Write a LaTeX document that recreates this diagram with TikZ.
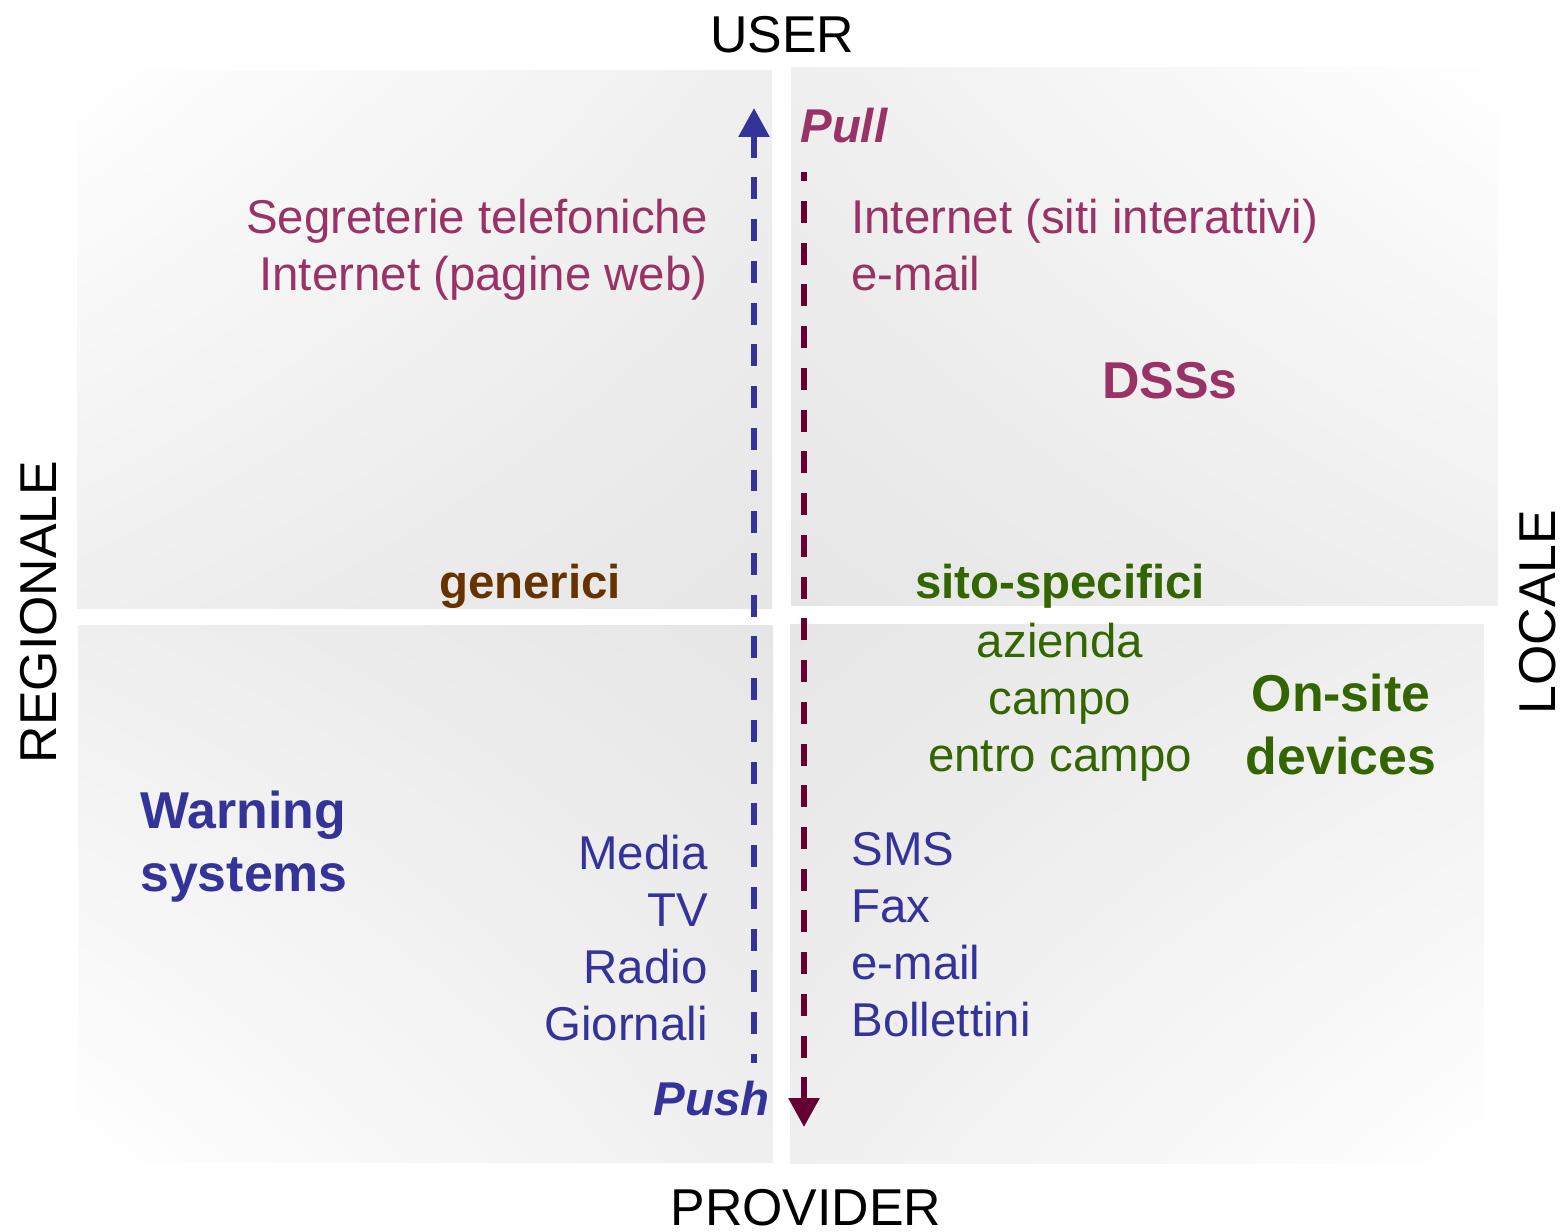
\documentclass[tikz,border=0pt]{standalone}
\usepackage{fontspec}
\setmainfont{Liberation Sans}
\usetikzlibrary{arrows.meta}
\usetikzlibrary{shadings}

\definecolor{pullcol}{HTML}{993366}
\definecolor{pushcol}{HTML}{333399}
\definecolor{pullarrow}{HTML}{660033}
\definecolor{gencol}{HTML}{663300}
\definecolor{sitecol}{HTML}{336600}
\definecolor{panelmid}{HTML}{EFEFEF}
\definecolor{paneldark}{HTML}{E6E6E6}

\tikzset{
  flowline/.style={line width=0.115cm, dash pattern=on 0.44cm off 0.395cm,
    {Triangle[width=0.6cm,length=0.58cm]}-},
  listtext/.style={inner sep=0pt, font=\fontsize{27}{32.4}\selectfont},
  labeltext/.style={inner sep=0pt, font=\bfseries\fontsize{27}{32.4}\selectfont},
  flowtext/.style={inner sep=0pt, font=\bfseries\itshape\fontsize{27}{32.4}\selectfont},
  headtext/.style={inner sep=0pt, font=\bfseries\fontsize{29.5}{35.4}\selectfont},
  axistext/.style={inner sep=0pt, font=\fontsize{29.5}{35.4}\selectfont},
}

\begin{document}
\begin{tikzpicture}[x=0.02cm, y=-0.02cm]
    \useasboundingbox (0,0) rectangle (1565,1231);
    % quadrants, lighter towards the outer corner
    \shade[upper left=white, upper right=panelmid, lower left=panelmid, lower right=paneldark] (77,70) rectangle (772,608);
    \shade[upper left=panelmid, upper right=white, lower left=paneldark, lower right=panelmid] (791,67) rectangle (1498,605);
    \shade[upper left=panelmid, upper right=paneldark, lower left=white, lower right=panelmid] (78,625) rectangle (773,1162);
    \shade[upper left=paneldark, upper right=panelmid, lower left=panelmid, lower right=white] (790,624) rectangle (1484,1163);

    \node[axistext, anchor=base] (user) at (782,52) {USER};
    \node[axistext, anchor=base] (provider) at (806,1225) {PROVIDER};
    \node[axistext, rotate=90, anchor=base] (regionale) at (56,612) {REGIONALE};
    \node[axistext, rotate=90, anchor=base] (locale) at (1555,612) {LOCALE};

    % push / pull
    \coordinate (pushtip) at (754,108);
    \coordinate (pushtail) at (754,1063);
    \coordinate (pulltip) at (804,1127);
    \coordinate (pulltail) at (804,172);
    \draw[flowline, pushcol] (pushtip) -- (pushtail);
    \draw[flowline, pullarrow] (pulltip) -- (pulltail);
    \node[flowtext, text=pullcol, anchor=base west] (pull) at (800,142) {Pull};
    \node[flowtext, text=pushcol, anchor=base east] (push) at (770,1115) {Push};

    \node[listtext, text=pullcol, align=right, anchor=base east] (pullreg) at (708,290) {Segreterie telefoniche\\Internet (pagine web)};
    \node[listtext, text=pullcol, align=left, anchor=base west] (pullloc) at (851,290) {Internet (siti interattivi)\\e-mail};
    \node[headtext, text=pullcol, anchor=base] (dss) at (1170,398) {DSSs};

    \node[labeltext, text=gencol, anchor=base] (generici) at (530,598) {generici};
    \node[labeltext, text=sitecol, anchor=base] (sito) at (1060,598) {sito-specifici};
    \node[listtext, text=sitecol, align=center, anchor=base] (scala) at (1060,771) {azienda\\campo\\entro campo};
    \node[headtext, text=sitecol, align=center, anchor=base] (onsite) at (1341,774) {On-site\\devices};

    \node[headtext, text=pushcol, align=left, anchor=base west] (warning) at (140,891) {Warning\\systems};
    \node[listtext, text=pushcol, align=right, anchor=base east] (pushreg) at (708,1040) {Media\\TV\\Radio\\Giornali};
    \node[listtext, text=pushcol, align=left, anchor=base west] (pushloc) at (851,1036) {SMS\\Fax\\e-mail\\Bollettini};
  \end{tikzpicture}
\end{document}
